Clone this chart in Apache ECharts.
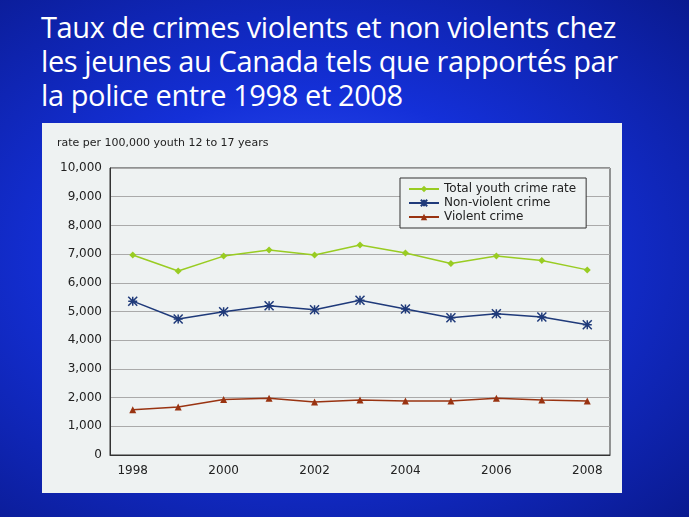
<!DOCTYPE html><html><head><meta charset="utf-8"><script src="https://cdn.jsdelivr.net/npm/echarts@6/dist/echarts.min.js"></script>
<style>html,body{margin:0;padding:0;}#bg{position:absolute;left:0;top:0;width:689px;height:517px;background:radial-gradient(ellipse at 45% 50%,#3a5cff 0%,#1430d8 45%,#0a1a90 100%);}
#t{position:absolute;left:41px;top:10px;color:#fff;font-family:"Open Sans",sans-serif;font-size:29px;line-height:34px;letter-spacing:-0.4px;}
#c{position:absolute;left:42px;top:123px;width:580px;height:370px;background:#eef2f2;}</style></head><body>
<div id="bg"></div><div id="t">Taux de crimes violents et non violents chez<br>les jeunes au Canada tels que rapportés par<br>la police entre 1998 et 2008</div>
<div id="c"></div>
<script>
const years=['1998','1999','2000','2001','2002','2003','2004','2005','2006','2007','2008'];
const total=[6970,6410,6930,7140,6970,7320,7040,6670,6930,6780,6450];
const nonViolent=[5360,4740,4990,5200,5060,5390,5090,4780,4920,4810,4540];
const violent=[1580,1670,1930,1980,1850,1920,1880,1880,1980,1920,1880];
const ch=echarts.init(document.getElementById('c'));
const f='Verdana, "DejaVu Sans", sans-serif';
ch.setOption({
 textStyle:{fontFamily:f},
 title:{text:'rate per 100,000 youth 12 to 17 years',left:10,top:10,textStyle:{fontSize:11,fontWeight:'normal',color:'#222',fontFamily:f}},
 grid:{left:68,right:12,top:45,bottom:38,show:true,borderColor:'#333',borderWidth:1,backgroundColor:'transparent'},
 legend:{orient:'vertical',left:358,top:55,itemGap:2,itemWidth:30,itemHeight:8,padding:[5,10,5,8],borderColor:'#333',borderWidth:1,backgroundColor:'#eef2f2',textStyle:{fontSize:12,color:'#222',fontFamily:f}},
 xAxis:{type:'category',data:years,boundaryGap:true,axisTick:{show:false},axisLine:{lineStyle:{color:'#333'}},axisLabel:{interval:1,fontSize:12,color:'#222',margin:10}},
 yAxis:{type:'value',min:0,max:10000,interval:1000,axisLine:{show:true,lineStyle:{color:'#333'}},axisLabel:{fontSize:12,color:'#222',formatter:v=>v.toLocaleString('en-US')},splitLine:{lineStyle:{color:'#aaa'}}},
 series:[
  {name:'Total youth crime rate',type:'line',data:total,symbol:'diamond',symbolSize:7,color:'#99cc22',lineStyle:{width:1.5}},
  {name:'Non-violent crime',type:'line',data:nonViolent,symbol:'path://M0,0L10,10M10,0L0,10M5,0L5,10M0,5L10,5',symbolSize:9,color:'#1f3a7a',itemStyle:{borderColor:'#1f3a7a',borderWidth:1.5},lineStyle:{width:1.5}},
  {name:'Violent crime',type:'line',data:violent,symbol:'triangle',symbolSize:7,color:'#993311',lineStyle:{width:1.5}}
 ]
});
</script></body></html>
